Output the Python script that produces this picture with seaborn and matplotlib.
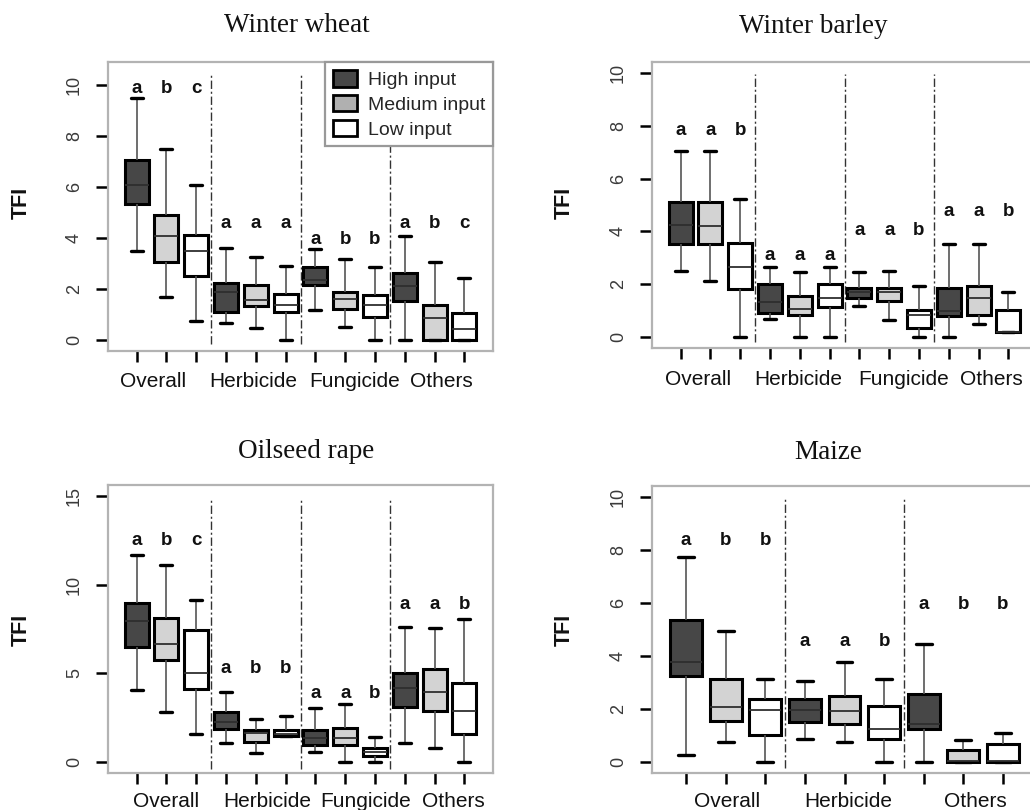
import numpy as np
import pandas as pd
import matplotlib
matplotlib.use("Agg")
import matplotlib.pyplot as plt
import matplotlib.transforms as mtrans
from matplotlib.patches import Patch
import seaborn as sns

# ---------------- data (five-number summaries) -------------
INPUTS = ["High input", "Medium input", "Low input"]
GROUPS4 = ["Overall", "Herbicide", "Fungicide", "Others"]
GROUPS3 = ["Overall", "Herbicide", "Others"]

# Winter wheat
ww_min = [3.50, 1.69, 0.72, 0.64, 0.45, 0.00, 1.17, 0.51, 0.00, 0.00, 0.00, 0.00]
ww_q1 = [5.34, 3.04, 2.51, 1.08, 1.34, 1.08, 2.15, 1.21, 0.91, 1.51, 0.00, 0.00]
ww_med = [6.09, 4.09, 3.48, 1.89, 1.56, 1.38, 2.36, 1.60, 1.38, 2.10, 0.84, 0.42]
ww_q3 = [7.05, 4.88, 4.12, 2.23, 2.15, 1.80, 2.85, 1.89, 1.76, 2.61, 1.36, 1.04]
ww_max = [9.47, 7.48, 6.09, 3.60, 3.24, 2.91, 3.57, 3.16, 2.87, 4.09, 3.04, 2.41]
ww_letters = ["a", "b", "c", "a", "a", "a", "a", "b", "b", "a", "b", "c"]
ww_letter_y = [9.87, 4.58, 3.92, 4.58]

# Winter barley
wb_min = [2.49, 2.12, 0.00, 0.69, 0.00, 0.00, 1.18, 0.64, 0.00, 0.00, 0.52, 0.20]
wb_q1 = [3.52, 3.52, 1.83, 0.94, 0.84, 1.15, 1.48, 1.36, 0.34, 0.81, 0.86, 0.20]
wb_med = [4.23, 4.20, 2.64, 1.33, 1.08, 1.48, 1.71, 1.71, 0.84, 1.00, 1.48, 0.22]
wb_q3 = [5.12, 5.12, 3.57, 2.00, 1.58, 2.00, 1.88, 1.88, 1.02, 1.88, 1.93, 1.05]
wb_max = [7.03, 7.03, 5.24, 2.67, 2.48, 2.67, 2.48, 2.51, 1.93, 3.54, 3.54, 1.71]
wb_letters = ["a", "a", "b", "a", "a", "a", "a", "a", "b", "a", "a", "b"]
wb_letter_y = [7.82, 3.10, 4.04, 4.74]

# Oilseed rape
or_min = [4.08, 2.82, 1.60, 1.09, 0.51, 1.50, 0.56, 0.00, 0.00, 1.09, 0.79, 0.00]
or_q1 = [6.48, 5.73, 4.15, 1.88, 1.13, 1.50, 1.00, 1.00, 0.38, 3.14, 2.86, 1.60]
or_med = [7.93, 6.67, 5.02, 2.29, 1.67, 1.60, 1.35, 1.35, 0.60, 4.19, 3.95, 2.86]
or_q3 = [8.98, 8.14, 7.42, 2.82, 1.84, 1.84, 1.84, 1.94, 0.81, 5.04, 5.26, 4.47]
or_max = [11.69, 11.09, 9.12, 3.95, 2.44, 2.63, 3.06, 3.27, 1.41, 7.61, 7.54, 8.08]
or_letters = ["a", "b", "c", "a", "b", "b", "a", "a", "b", "a", "a", "b"]
or_letter_y = [12.46, 5.30, 3.85, 8.89]

# Maize
mz_min = [0.25, 0.75, 0.00, 0.88, 0.75, 0.00, 0.00, 0.00, 0.00]
mz_q1 = [3.23, 1.54, 1.00, 1.50, 1.44, 0.88, 1.25, 0.00, 0.00]
mz_med = [3.76, 2.07, 1.94, 1.94, 1.90, 1.22, 1.44, 0.02, 0.02]
mz_q3 = [5.33, 3.13, 2.38, 2.38, 2.47, 2.09, 2.54, 0.44, 0.66]
mz_max = [7.73, 4.95, 3.13, 3.03, 3.78, 3.13, 4.44, 0.84, 1.07]
mz_letters = ["a", "b", "b", "a", "a", "b", "a", "b", "b"]
mz_letter_y = [8.33, 4.55, 5.93]

# ---------------- style ----------------
sns.set_theme(style="white")
plt.rcParams["font.family"] = ["Liberation Sans", "DejaVu Sans"]

PALETTE = {"High input": "#474747", "Medium input": "#d3d3d3", "Low input": "#ffffff"}
LEGEND_COLORS = {"High input": "#474747", "Medium input": "#b0b0b0", "Low input": "#ffffff"}

fig = plt.figure(figsize=(10.3, 8.1), dpi=100)
W, H = 1030.0, 810.0


def axes_px(left, top, width, bottom):
    return fig.add_axes([left / W, (H - bottom) / H, width / W, (bottom - top) / H])


panels = [
    dict(title="Winter wheat", groups=GROUPS4,
         stats=(ww_min, ww_q1, ww_med, ww_q3, ww_max), letters=ww_letters, letter_y=ww_letter_y,
         rect=(108, 62, 385, 351), ylim=(-0.44, 10.9), yticks=[0, 2, 4, 6, 8, 10],
         title_xy=(297, 32), tfi_xy=(21, 203), label_base=387,
         label_x=[0.54, 3.92, 7.3, 10.24], divider_y=(-0.17, 10.46), legend=True),
    dict(title="Winter barley", groups=GROUPS4,
         stats=(wb_min, wb_q1, wb_med, wb_q3, wb_max), letters=wb_letters, letter_y=wb_letter_y,
         rect=(652, 62, 385, 348), ylim=(-0.4, 10.4), yticks=[0, 2, 4, 6, 8, 10],
         title_xy=(813, 33), tfi_xy=(564, 203), label_base=385,
         label_x=[0.57, 3.95, 7.5, 10.44], divider_y=(-0.16, 9.93), legend=False),
    dict(title="Oilseed rape", groups=GROUPS4,
         stats=(or_min, or_q1, or_med, or_q3, or_max), letters=or_letters, letter_y=or_letter_y,
         rect=(108, 485, 385, 773), ylim=(-0.6, 15.6), yticks=[0, 5, 10, 15],
         title_xy=(306, 458), tfi_xy=(21, 630), label_base=807,
         label_x=[1.0, 4.4, 7.7, 10.64], divider_y=(-0.36, 14.87), legend=False),
    dict(title="Maize", groups=GROUPS3,
         stats=(mz_min, mz_q1, mz_med, mz_q3, mz_max), letters=mz_letters, letter_y=mz_letter_y,
         rect=(652, 486, 385, 773), ylim=(-0.42, 10.4), yticks=[0, 2, 4, 6, 8, 10],
         title_xy=(828, 459), tfi_xy=(564, 630), label_base=807,
         label_x=[1.03, 4.1, 7.3], divider_y=(-0.24, 10.0), legend=False),
]

for p in panels:
    left, top, width, bottom = p["rect"]
    ax = axes_px(left, top, width, bottom)
    groups = p["groups"]
    mins, q1, med, q3, maxs = p["stats"]
    n = len(mins)
    rows = []
    slots = []
    for i in range(n):
        slot = f"{groups[i // 3]}|{INPUTS[i % 3]}"
        slots.append(slot)
        for v in (mins[i], q1[i], med[i], q3[i], maxs[i]):
            rows.append({"slot": slot, "level": INPUTS[i % 3], "TFI": v})
    df = pd.DataFrame(rows)

    sns.boxplot(data=df, x="slot", y="TFI", hue="level", order=slots, hue_order=INPUTS,
                palette=PALETTE, saturation=1, dodge=False, width=0.8, whis=(0, 100),
                linecolor="black", linewidth=2.2, showfliers=False, legend=False, ax=ax,
                whiskerprops=dict(color="#555555", linewidth=1.2),
                capprops=dict(color="black", linewidth=2.4),
                medianprops=dict(color="#2e2e2e", linewidth=1.3))

    ax.set_xlim(-0.96 if n == 12 else -0.86, n - 1 + (0.96 if n == 12 else 0.86))
    ax.set_ylim(*p["ylim"])
    ax.set_yticks(p["yticks"])
    ax.set_yticklabels([str(t) for t in p["yticks"]])
    ax.set_xticks(range(n))
    ax.set_xticklabels([])
    ax.set_xlabel("")
    ax.set_ylabel("")
    ax.tick_params(axis="y", direction="out", length=9, width=1.8, color="black",
                   pad=9, labelsize=13, labelcolor="#3a3a3a", labelrotation=90, left=True)
    ax.tick_params(axis="x", direction="out", length=8, width=1.8, color="black", bottom=True)
    for t in ax.yaxis.get_major_ticks():
        t.label1.set_verticalalignment("center")
    for s in ax.spines.values():
        s.set_color("#b3b3b3")
        s.set_linewidth(1.6)
        s.set_visible(True)
    ax.grid(False)

    # group dividers
    for k in range(1, len(groups)):
        ax.plot([3 * k - 0.5, 3 * k - 0.5], list(p["divider_y"]), color="#333333",
                linewidth=1.0, linestyle=(0, (6, 2, 1.5, 2)), zorder=1)

    # significance letters
    for i, letter in enumerate(p["letters"]):
        ax.text(i, p["letter_y"][i // 3], letter, ha="center", va="center",
                fontsize=13.5, fontweight="bold", color="#111111")

    # group labels below axis
    trans = mtrans.blended_transform_factory(ax.transData, fig.transFigure)
    for g, gx in zip(groups, p["label_x"]):
        ax.text(gx, (H - p["label_base"]) / H, g, transform=trans, ha="center",
                va="baseline", fontsize=15, color="#111111", clip_on=False)

    # title and y label
    fig.text(p["title_xy"][0] / W, (H - p["title_xy"][1]) / H, p["title"], ha="center",
             va="baseline", fontsize=19.5, family=["Liberation Serif", "DejaVu Serif"],
             color="#111111")
    fig.text(p["tfi_xy"][0] / W, (H - p["tfi_xy"][1]) / H, "TFI", ha="center", va="center",
             rotation=90, fontsize=15.5, fontweight="bold", color="#111111")

    if p["legend"]:
        handles = [Patch(facecolor=LEGEND_COLORS[k], edgecolor="black", linewidth=2.0, label=k)
                   for k in INPUTS]
        leg = ax.legend(handles=handles, loc="upper right", borderaxespad=0, fancybox=False,
                        framealpha=1, edgecolor="#999999", fontsize=14, handlelength=1.25,
                        handleheight=0.95, handletextpad=0.55, labelspacing=0.3,
                        borderpad=0.4)
        leg.get_frame().set_linewidth(1.6)
        leg.set_zorder(10)

fig.savefig("out.png", dpi=100)
